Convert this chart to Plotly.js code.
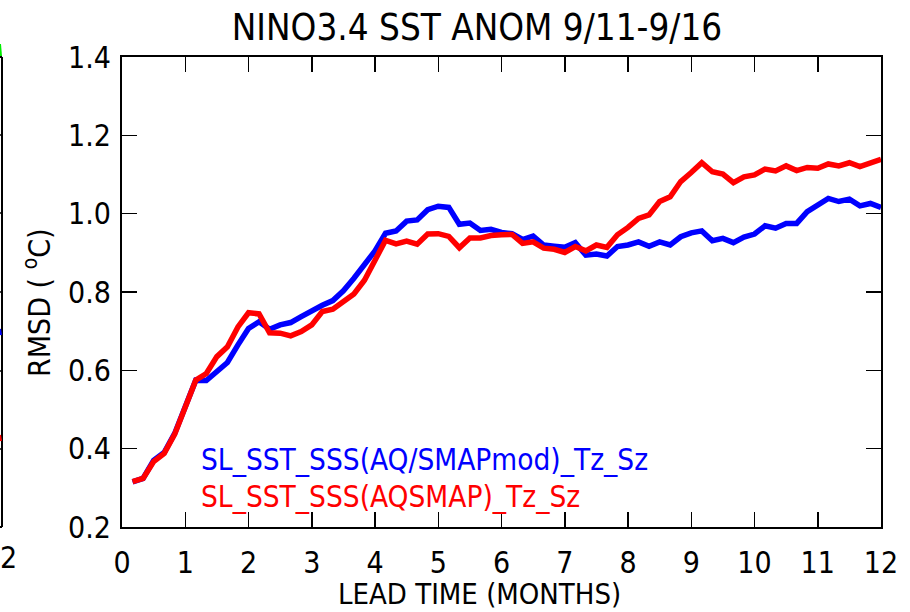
<!DOCTYPE html>
<html>
<head>
<meta charset="utf-8">
<script src="https://cdn.plot.ly/plotly-3.0.1.min.js"></script>
<style>html,body{margin:0;padding:0;background:#fff;}#chart{width:910px;height:612px;}</style>
</head>
<body>
<div id="chart"></div>
<script>
// Lead time steps: k/6 months, k = 1..72
const leadSteps = [1,2,3,4,5,6,7,8,9,10,11,12,13,14,15,16,17,18,19,20,21,22,23,24,25,26,27,28,29,30,31,32,33,34,35,36,37,38,39,40,41,42,43,44,45,46,47,48,49,50,51,52,53,54,55,56,57,58,59,60,61,62,63,64,65,66,67,68,69,70,71,72];
const stepsPerMonth = 6;

const seriesNames = ["SL_SST_SSS(AQ/SMAPmod)_Tz_Sz", "SL_SST_SSS(AQSMAP)_Tz_Sz"];
const seriesColors = ["#0000ff", "#ff0000"];

const rmsdMod = [0.315,0.324,0.370,0.390,0.439,0.507,0.575,0.574,0.597,0.620,0.665,0.707,0.724,0.705,0.716,0.722,0.737,0.753,0.766,0.778,
  0.803,0.835,0.870,0.905,0.950,0.956,0.981,0.984,1.010,1.019,1.016,0.973,0.976,0.957,0.960,0.952,0.949,0.934,0.943,0.920,
  0.917,0.914,0.926,0.894,0.897,0.892,0.916,0.920,0.928,0.917,0.928,0.920,0.941,0.951,0.956,0.931,0.937,0.926,0.940,0.948,
  0.969,0.963,0.975,0.975,1.005,1.022,1.039,1.031,1.037,1.020,1.026,1.016];

const rmsdAqsmap = [0.316,0.324,0.367,0.388,0.437,0.505,0.575,0.592,0.635,0.660,0.711,0.747,0.744,0.696,0.695,0.688,0.699,0.716,0.750,0.756,
  0.774,0.795,0.830,0.878,0.932,0.923,0.930,0.922,0.948,0.949,0.942,0.913,0.938,0.938,0.944,0.946,0.947,0.924,0.928,0.912,
  0.909,0.901,0.916,0.905,0.920,0.914,0.946,0.965,0.988,0.997,1.031,1.043,1.082,1.105,1.130,1.107,1.101,1.079,1.094,1.099,
  1.114,1.109,1.122,1.110,1.118,1.116,1.127,1.122,1.130,1.120,1.129,1.139];

const xTicks = [0,1,2,3,4,5,6,7,8,9,10,11,12];
const yTicks = [0.2,0.4,0.6,0.8,1.0,1.2,1.4];
const yTickText = ["0.2","0.4","0.6","0.8","1.0","1.2","1.4"];

const leadMonths = leadSteps.map(k => k / stepsPerMonth);

const FONT = '"Liberation Sans Narrow", "DejaVu Sans Condensed", "Liberation Sans", sans-serif';

const traces = [rmsdMod, rmsdAqsmap].map((vals, i) => ({
  x: leadMonths, y: vals, type: 'scatter', mode: 'lines', name: seriesNames[i],
  line: {color: seriesColors[i], width: 5.5}, showlegend: false, hoverinfo: 'skip'
}));

// pixel -> paper helpers for the plot box (l=122, r=881, t=57, b=527)
const L = 122, R = 881, T = 57, B = 527;
const px = v => (v - L) / (R - L);
const py = v => (B - v) / (B - T);

const shapes = [
  // cut-off neighbouring panel at the left edge
  {type:'line', xref:'paper', yref:'paper', x0:px(2), x1:px(2), y0:py(T), y1:py(B), line:{color:'#000', width:2}},
  {type:'line', xref:'paper', yref:'paper', x0:px(0), x1:px(2), y0:py(B), y1:py(B), line:{color:'#000', width:2}},
  {type:'line', xref:'paper', yref:'paper', x0:px(0), x1:px(2), y0:py(T), y1:py(T), line:{color:'#000', width:2}}
];
[135, 213, 292, 371, 449].forEach(yy => shapes.push({type:'line', xref:'paper', yref:'paper', x0:px(0), x1:px(2), y0:py(yy), y1:py(yy), line:{color:'#000', width:1.5}}));
shapes.push({type:'line', xref:'paper', yref:'paper', x0:px(0), x1:px(1), y0:py(44), y1:py(56), line:{color:'#00ee00', width:2}});
shapes.push({type:'line', xref:'paper', yref:'paper', x0:px(0), x1:px(1), y0:py(329), y1:py(335), line:{color:'#0000ff', width:2}});
shapes.push({type:'line', xref:'paper', yref:'paper', x0:px(0), x1:px(1), y0:py(435), y1:py(441), line:{color:'#ff0000', width:2}});

const annotations = [
  {xref:'paper', yref:'paper', x:px(199), y:py(460), xanchor:'left', yanchor:'middle', showarrow:false,
   text: seriesNames[0], font:{family:FONT, size:29.5, color:seriesColors[0]}},
  {xref:'paper', yref:'paper', x:px(199), y:py(497), xanchor:'left', yanchor:'middle', showarrow:false,
   text: seriesNames[1], font:{family:FONT, size:29.5, color:seriesColors[1]}},
  {xref:'paper', yref:'paper', x:px(19), y:py(557), xanchor:'right', yanchor:'middle', showarrow:false,
   text:'2', font:{family:FONT, size:30, color:'#000'}},
  {xref:'paper', yref:'paper', x:px(37), y:py(303), xanchor:'center', yanchor:'middle', showarrow:false, textangle:-90,
   text:'RMSD ( <sup>o</sup>C)', font:{family:FONT, size:30, color:'#000'}},
  {xref:'paper', yref:'paper', x:px(479), y:py(594), xanchor:'center', yanchor:'middle', showarrow:false,
   text:'LEAD TIME (MONTHS)', font:{family:FONT, size:29, color:'#000'}}
];

const layout = {
  width: 910, height: 612,
  margin: {l: L, r: 910 - R, t: T, b: 612 - B},
  paper_bgcolor: '#fff', plot_bgcolor: '#fff',
  font: {family: FONT, color: '#000'},
  title: {text: 'NINO3.4 SST ANOM 9/11-9/16', font: {family: FONT, size: 36.5, color: '#000'},
          x: 477 / 910, xref: 'container', xanchor: 'center', y: 1 - 27 / 612, yref: 'container', yanchor: 'middle'},
  xaxis: {
    range: [0, 12], tickvals: xTicks, ticktext: xTicks.map(String), ticks: 'inside', ticklen: 15, tickwidth: 1.5, tickcolor: '#000',
    showline: true, linecolor: '#000', linewidth: 2, mirror: 'ticks', showgrid: false, zeroline: false,
    tickfont: {family: FONT, size: 30, color: '#000'}, ticklabelstandoff: 8
  },
  yaxis: {
    range: [0.2, 1.4], tickvals: yTicks, ticktext: yTickText, ticks: 'inside', ticklen: 15, tickwidth: 1.5, tickcolor: '#000',
    showline: true, linecolor: '#000', linewidth: 2, mirror: 'ticks', showgrid: false, zeroline: false,
    tickfont: {family: FONT, size: 30, color: '#000'}, ticklabelstandoff: 3
  },
  shapes: shapes,
  annotations: annotations,
  showlegend: false
};

Plotly.newPlot('chart', traces, layout, {displayModeBar: false, staticPlot: true});
</script>
</body>
</html>
